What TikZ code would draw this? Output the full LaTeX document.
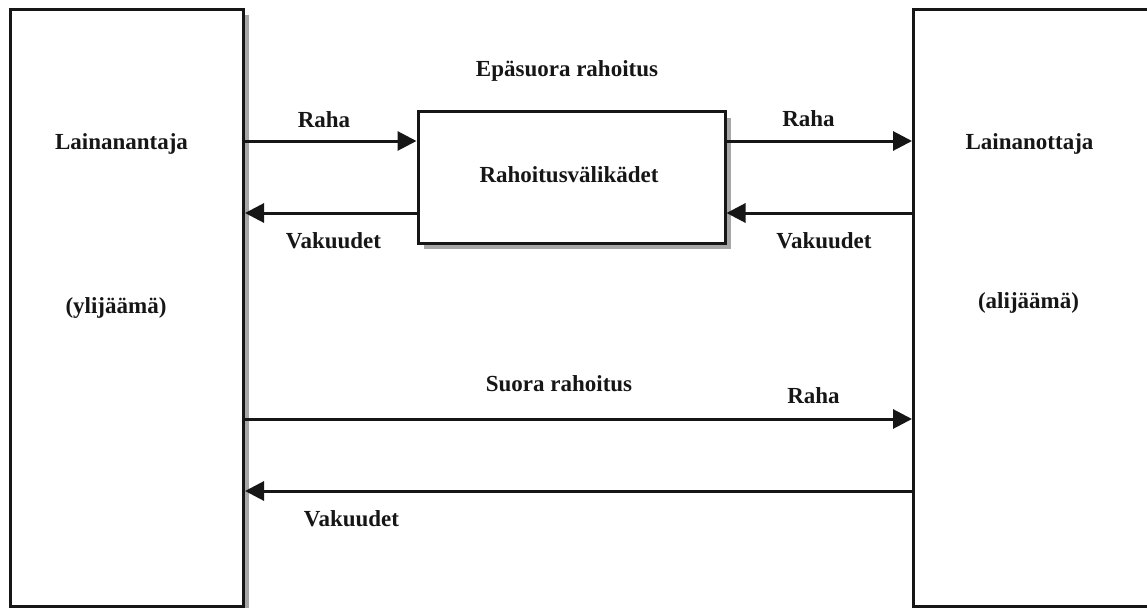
\documentclass[tikz,border=0pt]{standalone}
\usepackage{fontspec}
\setmainfont{Liberation Serif}
\usetikzlibrary{arrows.meta,shadows}
\definecolor{ink}{HTML}{161616}
\definecolor{shade}{HTML}{A6A6A6}
\tikzset{
  party/.style={draw=ink, line width=3pt, fill=white, inner sep=0pt},
  broker/.style={draw=ink, line width=3pt, fill=white, inner sep=0pt,
    drop shadow={shadow xshift=6pt, shadow yshift=-6pt, fill=shade, opacity=1}},
  lbl/.style={anchor=base, inner sep=0pt, font=\fontsize{23}{27}\selectfont\bfseries, text=ink},
  flow/.style={draw=ink, line width=3pt, -{Triangle[length=19pt,width=19pt]}},
}
\begin{document}
\begin{tikzpicture}[x=1pt,y=-1pt]
\useasboundingbox (0,0) rectangle (1147,607);

% lender and borrower
\node[party, drop shadow={shadow xshift=5pt, shadow yshift=-5pt, fill=shade, opacity=1},
  minimum width=233pt, minimum height=596pt] (lend) at (127,308) {};
\node[party, minimum width=240pt, minimum height=596pt] (borr) at (1033.5,308) {};

% financial intermediaries
\node[broker, minimum width=307pt, minimum height=131pt] (mid) at (571.5,177.5) {};

% texts
\node[lbl] (tlend) at (121.5,149) {Lainanantaja};
\node[lbl] (tsurp) at (116,313) {(ylijäämä)};
\node[lbl] (tborr) at (1029.5,149) {Lainanottaja};
\node[lbl] (tdef) at (1028.5,308) {(alijäämä)};
\node[lbl] (tmid) at (569,182.5) {Rahoitusvälikädet};
\node[lbl] (tind) at (567,76.5) {Epäsuora rahoitus};
\node[lbl] (tdir) at (559,391.5) {Suora rahoitus};
\node[lbl] (m1) at (324,128) {Raha};
\node[lbl] (m2) at (808.5,126.5) {Raha};
\node[lbl] (m3) at (813.5,403) {Raha};
\node[lbl] (v1) at (333.5,248.5) {Vakuudet};
\node[lbl] (v2) at (824,248) {Vakuudet};
\node[lbl] (v3) at (351.5,526.5) {Vakuudet};

% indirect finance
\draw[flow] ([yshift=36.5pt]mid.west -| lend.east) -- ([yshift=36.5pt]mid.west);
\draw[flow] ([yshift=-35.5pt]mid.west) -- ([yshift=-35.5pt]mid.west -| lend.east);
\draw[flow] ([yshift=36.5pt]mid.east) -- ([yshift=36.5pt]mid.east -| borr.west);
\draw[flow] ([yshift=-35.5pt]mid.east -| borr.west) -- ([yshift=-35.5pt]mid.east);

% direct finance
\coordinate (rowa) at (0,419);
\coordinate (rowb) at (0,491);
\draw[flow] (lend.east |- rowa) -- (borr.west |- rowa);
\draw[flow] (borr.west |- rowb) -- (lend.east |- rowb);
\end{tikzpicture}
\end{document}
